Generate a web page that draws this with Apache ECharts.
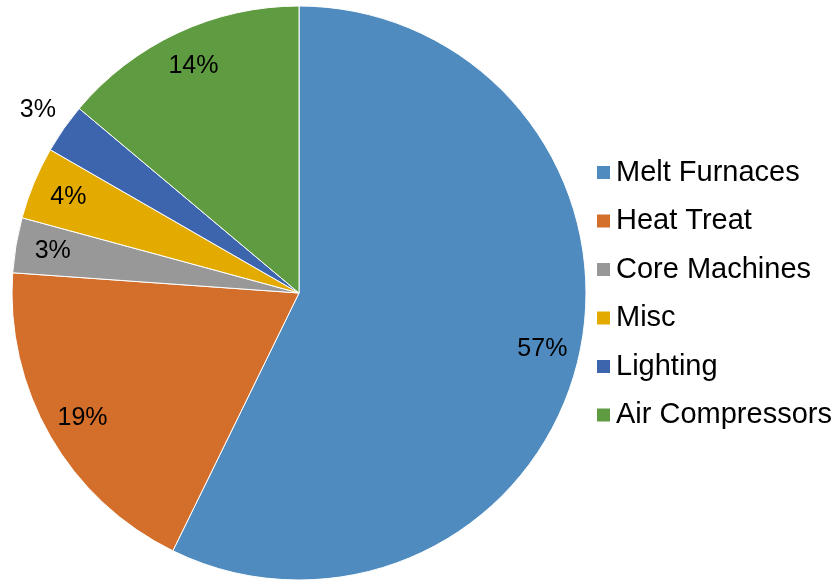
<!DOCTYPE html>
<html>
<head>
<meta charset="utf-8">
<script src="https://cdn.jsdelivr.net/npm/echarts@6/dist/echarts.min.js"></script>
<style>html,body{margin:0;padding:0;background:#fff;}#c{width:840px;height:580px;}</style>
</head>
<body>
<div id="c"></div>
<script>
const categories = ['Melt Furnaces', 'Heat Treat', 'Core Machines', 'Misc', 'Lighting', 'Air Compressors'];
const values = [57.3, 18.9, 3.1, 4.1, 2.8, 13.9];
const colors = ['#4F8BBE', '#D36E2B', '#989898', '#E3AA00', '#3D65AD', '#5F9B41'];
const outsideLabel = 'Lighting';

const chart = echarts.init(document.getElementById('c'), null, {renderer: 'canvas'});
const R = 287;
const center = [299, 293];
const font = 'Liberation Sans, Arial, sans-serif';

const mainData = categories.map((n, i) => ({name: n, value: values[i], itemStyle: {color: colors[i]}}));
const labelData = categories.map((n, i) => ({name: n, value: values[i], label: {show: n !== outsideLabel}}));
const outData = categories.map((n, i) => ({name: n, value: values[i], label: {show: n === outsideLabel}}));

const labelCommon = {
  position: 'inside',
  formatter: '{d}%',
  color: '#000',
  fontSize: 25,
  fontFamily: font
};

chart.setOption({
  animation: false,
  backgroundColor: '#fff',
  legend: {
    data: categories,
    orient: 'vertical',
    left: 590,
    top: 153,
    itemWidth: 15,
    itemHeight: 15,
    itemGap: 19.5,
    icon: 'rect',
    textStyle: {fontSize: 29, fontFamily: font, color: '#000', lineHeight: 29}
  },
  series: [
    {
      type: 'pie',
      center: center,
      radius: [0, R],
      startAngle: 90,
      clockwise: true,
      percentPrecision: 0,
      label: {show: false},
      labelLine: {show: false},
      itemStyle: {borderColor: '#fff', borderWidth: 1},
      emphasis: {disabled: true},
      data: mainData
    },
    {
      type: 'pie',
      center: center,
      radius: [R * 0.72, R],
      startAngle: 90,
      clockwise: true,
      silent: true,
      percentPrecision: 0,
      itemStyle: {color: 'rgba(0,0,0,0)'},
      label: labelCommon,
      labelLine: {show: false},
      emphasis: {disabled: true},
      data: labelData
    },
    {
      type: 'pie',
      center: center,
      radius: [R, R * 1.2],
      startAngle: 90,
      clockwise: true,
      silent: true,
      percentPrecision: 0,
      itemStyle: {color: 'rgba(0,0,0,0)'},
      label: labelCommon,
      labelLine: {show: false},
      emphasis: {disabled: true},
      data: outData
    }
  ]
});
</script>
</body>
</html>
